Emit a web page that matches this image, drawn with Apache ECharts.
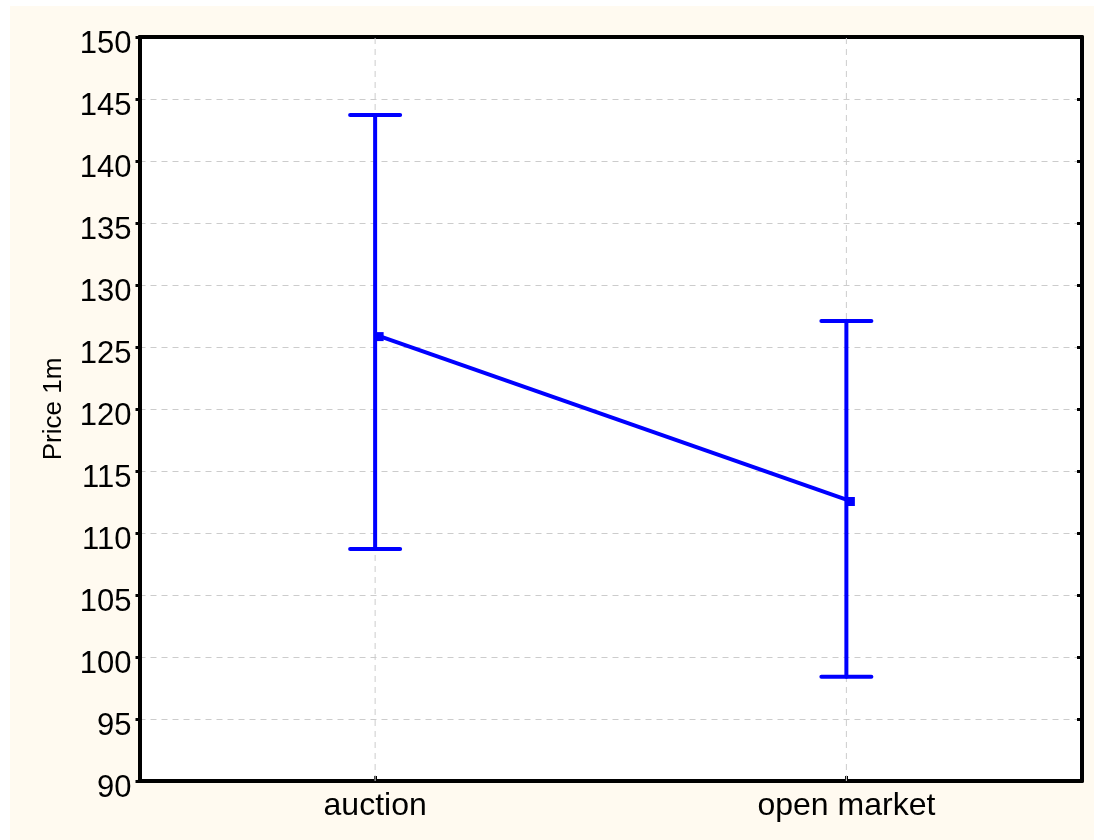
<!DOCTYPE html>
<html>
<head>
<meta charset="utf-8">
<script src="https://cdn.jsdelivr.net/npm/echarts@6/dist/echarts.min.js"></script>
<style>
  html, body { margin: 0; padding: 0; background: #ffffff; }
  #chart { position: absolute; left: 10px; top: 6px; width: 1084px; height: 834px; background: #fffaf0; }
</style>
</head>
<body>
<div id="chart"></div>
<script>
// Mean price with confidence interval per sale type
const categories = ['auction', 'open market'];
const means = [126.0, 112.7];
const lowerBounds = [108.7, 98.4];
const upperBounds = [143.7, 127.1];
const yTicks = { min: 90, max: 150, step: 5 };
const yName = 'Price 1m';

const BLUE = '#0000ff';
const GRID_GRAY = '#cccccc';
const FONT = '"Liberation Sans", Arial, sans-serif';

const errorData = categories.map((c, i) => [i, lowerBounds[i], upperBounds[i]]);
const guideData = categories.map((c, i) => [i]);

const chart = echarts.init(document.getElementById('chart'), null, { renderer: 'canvas' });

chart.setOption({
  animation: false,
  backgroundColor: 'transparent',
  grid: {
    left: 129.5, top: 31, right: 12, bottom: 59,
    show: true, backgroundColor: '#ffffff', borderWidth: 0
  },
  xAxis: [
    {
      type: 'category',
      data: categories,
      axisLine: { show: true, lineStyle: { color: '#000', width: 4 } },
      axisTick: { show: true, inside: true, alignWithLabel: true, length: 5, lineStyle: { color: '#000', width: 3 } },
      axisLabel: { color: '#000', fontFamily: FONT, fontSize: 32, margin: 9 },
      splitLine: { show: false }
    },
    {
      type: 'category',
      position: 'top',
      data: categories,
      axisLine: { show: true, lineStyle: { color: '#000', width: 4 } },
      axisTick: { show: false },
      axisLabel: { show: false },
      splitLine: { show: false }
    }
  ],
  yAxis: [
    {
      type: 'value',
      min: yTicks.min, max: yTicks.max, interval: yTicks.step,
      name: yName,
      nameLocation: 'middle',
      nameGap: 73,
      nameTextStyle: { color: '#000', fontFamily: FONT, fontSize: 26 },
      axisLine: { show: true, lineStyle: { color: '#000', width: 4 } },
      axisTick: { show: true, length: 4, lineStyle: { color: '#000', width: 3 } },
      axisLabel: {
        color: '#000', fontFamily: FONT, fontSize: 31, margin: 8,
        formatter: v => '{v|' + v + '}',
        rich: { v: { color: '#000', fontFamily: FONT, fontSize: 31, padding: [14, 0, 0, 0] } }
      },
      splitLine: { show: true, showMinLine: false, showMaxLine: false, lineStyle: { color: GRID_GRAY, width: 1, type: [6, 5] } }
    },
    {
      type: 'value',
      position: 'right',
      min: yTicks.min, max: yTicks.max, interval: yTicks.step,
      axisLine: { show: true, lineStyle: { color: '#000', width: 4 } },
      axisTick: { show: true, inside: true, length: 5, lineStyle: { color: '#000', width: 3 } },
      axisLabel: { show: false },
      splitLine: { show: false }
    }
  ],
  series: [
    {
      // vertical dashed guides at each category
      type: 'custom',
      z: 1,
      silent: true,
      data: guideData,
      renderItem: function (params, api) {
        const x = api.value(0);
        const bottom = api.coord([x, yTicks.min]);
        const top = api.coord([x, yTicks.max]);
        return {
          type: 'line',
          shape: { x1: bottom[0], y1: bottom[1], x2: top[0], y2: top[1] },
          style: { stroke: GRID_GRAY, lineWidth: 1, lineDash: [6, 5] }
        };
      }
    },
    {
      // confidence interval whiskers
      type: 'custom',
      z: 3,
      data: errorData,
      renderItem: function (params, api) {
        const x = api.value(0);
        const lo = api.coord([x, api.value(1)]);
        const hi = api.coord([x, api.value(2)]);
        const half = 25;
        const style = { stroke: BLUE, lineWidth: 4, lineCap: 'round' };
        return {
          type: 'group',
          children: [
            { type: 'line', shape: { x1: lo[0], y1: lo[1], x2: hi[0], y2: hi[1] }, style: style },
            { type: 'line', shape: { x1: hi[0] - half, y1: hi[1], x2: hi[0] + half, y2: hi[1] }, style: style },
            { type: 'line', shape: { x1: lo[0] - half, y1: lo[1], x2: lo[0] + half, y2: lo[1] }, style: style }
          ]
        };
      }
    },
    {
      // means joined by a line
      type: 'line',
      z: 4,
      data: means,
      symbol: 'rect',
      symbolSize: 9,
      symbolOffset: [4, 2],
      itemStyle: { color: BLUE },
      lineStyle: { color: BLUE, width: 4 }
    }
  ]
});
</script>
</body>
</html>
